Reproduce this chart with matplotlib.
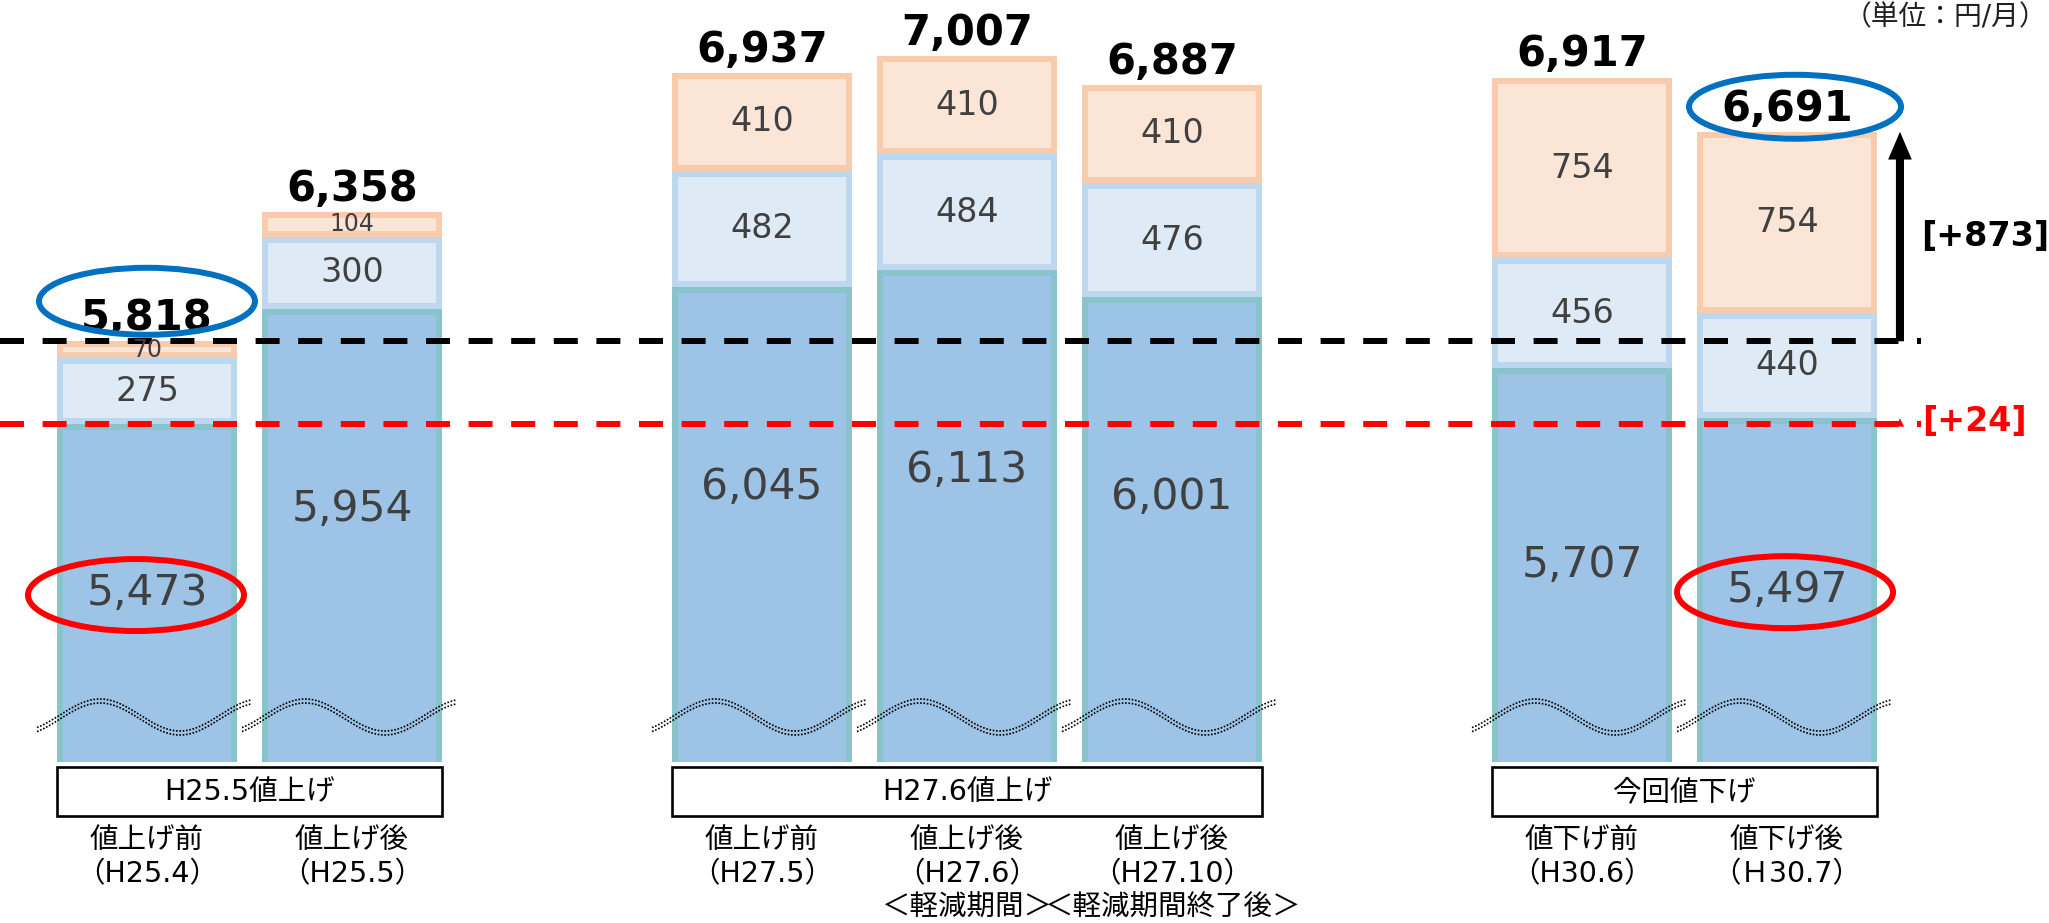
import numpy as np
import matplotlib
matplotlib.use("Agg")
import matplotlib.pyplot as plt
from matplotlib.patches import Ellipse, Rectangle, FancyArrowPatch
from matplotlib.transforms import TransformedPath, blended_transform_factory

plt.rcParams['font.family'] = ['DejaVu Sans', 'Noto Sans CJK JP']

# ---------------- data ----------------
categories = ["値上げ前\n（H25.4）", "値上げ後\n（H25.5）", "値上げ前\n（H27.5）",
              "値上げ後\n（H27.6）\n＜軽減期間＞", "値上げ後\n（H27.10）\n＜軽減期間終了後＞",
              "値下げ前\n（H30.6）", "値下げ後\n（Ｈ30.7）"]
group_labels = ["H25.5値上げ", "H27.6値上げ", "今回値下げ"]
group_of_bar = [0, 0, 1, 1, 1, 2, 2]
base_values = [5473, 5954, 6045, 6113, 6001, 5707, 5497]
middle_values = [275, 300, 482, 484, 476, 456, 440]
top_values = [70, 104, 410, 410, 410, 754, 754]
unit_label = "（単位：円/月）"

# ---------------- layout ----------------
FIG_W, FIG_H = 2049, 923
AX_BOTTOM_PX = 762
XLIM = (-0.717, 9.278)
YLIM = (4065, 7240)
BAR_W = 0.878
BASE_LABEL_MAX_DROP_PX = 200

fig = plt.figure(figsize=(FIG_W / 100, FIG_H / 100), dpi=100)
ax = fig.add_axes([0, 1 - AX_BOTTOM_PX / FIG_H, 1, AX_BOTTOM_PX / FIG_H])
ax.set_xlim(*XLIM)
ax.set_ylim(*YLIM)
ax.axis('off')

sx = FIG_W / (XLIM[1] - XLIM[0])          # px per x unit
sy = AX_BOTTOM_PX / (YLIM[1] - YLIM[0])    # px per y unit


def fy(py):
    return 1 - py / FIG_H


def base_label_y(b):
    # centre of the visible part, but never further than a fixed drop below the top
    return max((max(YLIM[0], 0) + b) / 2, b - BASE_LABEL_MAX_DROP_PX / sy)


below = blended_transform_factory(ax.transData, fig.transFigure)

positions = [i + g for i, g in enumerate(group_of_bar)]
base = np.array(base_values)
mid = np.array(middle_values)
top = np.array(top_values)
totals = base + mid + top

styles = [
    ("#9DC3E6", "#89C4CC"),
    ("#DEEAF6", "#BDD7EE"),
    ("#FBE5D6", "#F8CBAD"),
]
segments = [(base, np.zeros_like(base)), (mid, base), (top, base + mid)]
for (vals, bottoms), (fc, ec) in zip(segments, styles):
    bars = ax.bar(positions, vals, bottom=bottoms, width=BAR_W, color=fc,
                  edgecolor=ec, linewidth=8.6, zorder=2)
    for r in bars:
        r.set_clip_path(TransformedPath(r.get_path(), r.get_transform()))

# segment labels
label_color = "#404040"
for p, b, m, t in zip(positions, base, mid, top):
    ax.text(p, base_label_y(b), f"{b:,}", ha='center', va='center', fontsize=30.5,
            color=label_color, zorder=5, family='DejaVu Sans')
    for v, lo in ((m, b), (t, b + m)):
        fs = 17 if v < 150 else 24
        ax.text(p, lo + v / 2, f"{v:,}", ha='center', va='center', fontsize=fs,
                color=label_color, zorder=5, family='DejaVu Sans')

# totals
for p, tot in zip(positions, totals):
    ax.annotate(f"{tot:,}", xy=(p, tot), xytext=(0, 8), textcoords='offset points',
                ha='center', va='baseline', fontsize=30, fontweight='bold',
                color='black', zorder=6, family='DejaVu Sans')

# break waves
xs_px = np.linspace(-110, 105, 300)
ys_px = 717 - 16 * np.sin(2 * np.pi * (xs_px + 47) / 160 + np.pi / 2)
for p in positions:
    for off in (-2.0, 2.0):
        ax.plot(p + xs_px / sx, YLIM[1] - (ys_px + off) / sy, color='black',
                lw=1.2, linestyle=(0, (1, 1)), zorder=4, solid_capstyle='butt')

# reference lines
LINE_END_X = 8.655
ax.plot([XLIM[0], LINE_END_X], [totals[0]] * 2, color='black', lw=4.32,
        dashes=(4.0, 3.1), zorder=3)
ax.plot([XLIM[0], LINE_END_X], [base[0]] * 2, color='#FF0000', lw=4.32,
        dashes=(4.0, 3.1), zorder=3)

ARROW_X = 8.551
ax.add_patch(FancyArrowPatch((ARROW_X, totals[0]), (ARROW_X, totals[-1]),
                             arrowstyle='simple,head_length=1.0,head_width=0.85,tail_width=0.29',
                             mutation_scale=20, lw=0, color='black', shrinkA=0, shrinkB=0,
                             zorder=6))
ax.add_patch(FancyArrowPatch((ARROW_X, base[0]), (ARROW_X, base[-1]),
                             arrowstyle='simple,head_length=0.6,head_width=0.6,tail_width=0.25',
                             mutation_scale=10, lw=0, color='#FF0000', shrinkA=0, shrinkB=0,
                             zorder=6))
ax.annotate(f"[+{totals[-1] - totals[0]}]", xy=(ARROW_X, (totals[0] + totals[-1]) / 2),
            xytext=(15, 0), textcoords='offset points', ha='left', va='center',
            fontsize=24, fontweight='bold', color='black', family='DejaVu Sans',
            annotation_clip=False)
ax.annotate(f"[+{base[-1] - base[0]}]", xy=(ARROW_X, (base[0] + base[-1]) / 2),
            xytext=(16, 0), textcoords='offset points', ha='left', va='center',
            fontsize=24, fontweight='bold', color='#FF0000', family='DejaVu Sans',
            annotation_clip=False)

# highlight ellipses
blue = '#0070C0'
red = '#FF0000'
ax.add_patch(Ellipse((positions[0], totals[0] + 40 / sy), 216 / sx, 67 / sy,
                     fill=False, ec=blue, lw=4.3, zorder=7))
ax.add_patch(Ellipse((positions[-1] + 8 / sx, totals[-1] + 25 / sy), 212 / sx, 64 / sy,
                     fill=False, ec=blue, lw=4.3, zorder=7))
for i, dx in ((0, -11), (-1, -2)):
    yc = base_label_y(base[i]) - 2 / sy
    ax.add_patch(Ellipse((positions[i] + dx / sx, yc), 216 / sx, 72 / sy,
                         fill=False, ec=red, lw=4.3, zorder=7))

# group boxes
for g, lab in enumerate(group_labels):
    ps = [p for p, gg in zip(positions, group_of_bar) if gg == g]
    left = min(ps) - BAR_W / 2
    right = max(ps) + BAR_W / 2
    ax.add_patch(Rectangle((left, fy(816)), right - left, (816 - 767) / FIG_H,
                           transform=below, fill=False, ec='black', lw=1.9,
                           clip_on=False))
    ax.text((left + right) / 2, fy(792), lab, transform=below, ha='center',
            va='center', fontsize=20.5, color='black')

# category labels
for p, cat in zip(positions, categories):
    for i, line in enumerate(cat.split("\n")):
        ax.text(p, fy(840 + 34 * i), line, transform=below, ha='center',
                va='center', fontsize=20.5, color='black')

fig.text(2047 / FIG_W, fy(17), unit_label, ha='right', va='center', fontsize=20,
         color='#202020')

fig.savefig("out.png", dpi=100)
